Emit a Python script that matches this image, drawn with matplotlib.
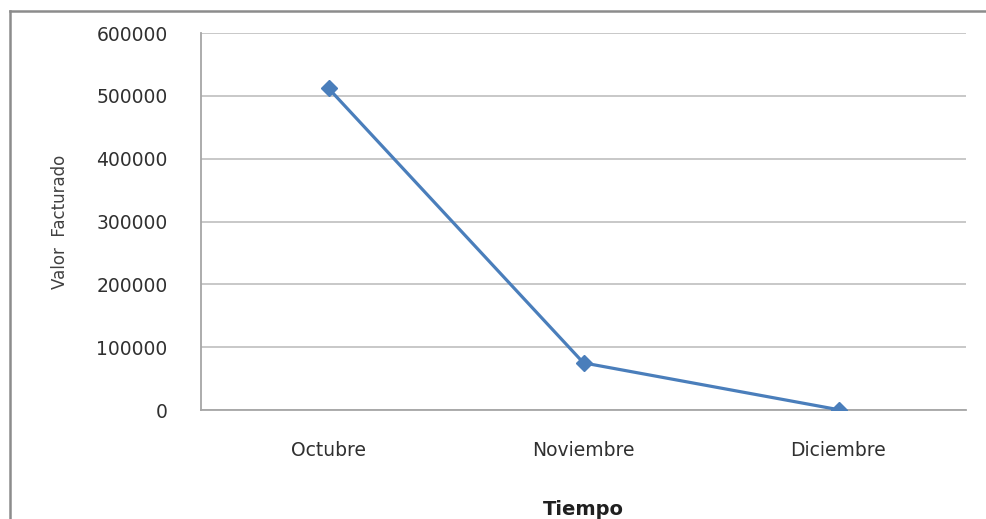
import matplotlib.pyplot as plt
from matplotlib.lines import Line2D

# datos
meses = ['Octubre', 'Noviembre', 'Diciembre']
valor = [512000, 75000, 500]
yticks = [0, 100000, 200000, 300000, 400000, 500000, 600000]

fig = plt.figure(figsize=(9.86, 5.19), dpi=100)
ax = fig.add_axes([201/986, 1 - 410/519, (966-201)/986, (410-33)/519])

x = list(range(len(meses)))
ax.plot(x, valor, color='#4a7ebb', linewidth=2.3, marker='D', markersize=8,
        markeredgecolor='#4a7ebb', markerfacecolor='#4a7ebb', zorder=3)

ax.set_xlim(-0.5, 2.5)
ax.set_ylim(0, 600000)
ax.set_yticks(yticks)
ax.set_yticklabels([str(v) for v in yticks])
ax.set_xticks(x)
ax.set_xticklabels(meses)
ax.grid(axis='y', color='#c4c4c4', linewidth=1.3)
ax.set_axisbelow(True)

for s in ['top', 'right']:
    ax.spines[s].set_visible(False)
for s in ['left', 'bottom']:
    ax.spines[s].set_color('#a6a6a6')
    ax.spines[s].set_linewidth(1.3)

ax.tick_params(axis='both', length=0, labelsize=13.5, colors='#303030')
ax.tick_params(axis='y', pad=24)
ax.tick_params(axis='x', pad=22)

ax.set_ylabel('Valor  Facturado', fontsize=12,
              family=['Liberation Sans Narrow', 'DejaVu Sans Condensed', 'DejaVu Sans'],
              color='#404040', labelpad=0)
ax.yaxis.set_label_coords(-0.184, 0.5)
ax.yaxis.label.set_va('center')
ax.set_xlabel('Tiempo', fontsize=14, fontweight='bold', color='#202020')
ax.xaxis.set_label_coords(0.5, -0.263)
ax.xaxis.label.set_va('center')

# marco del grafico
fig.add_artist(Line2D([10/986, 1], [1 - 11/519, 1 - 11/519], color='#8c8c8c', linewidth=1.8))
fig.add_artist(Line2D([10/986, 10/986], [0, 1 - 11/519], color='#8c8c8c', linewidth=1.8))

fig.savefig('out.png', dpi=100)
